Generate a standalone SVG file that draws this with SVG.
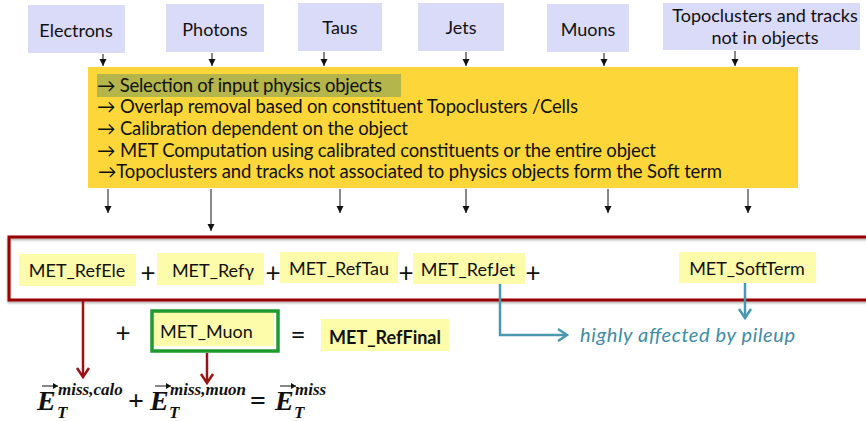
<svg xmlns="http://www.w3.org/2000/svg" width="866" height="421" viewBox="0 0 866 421">
<defs>
<style>
.src rect{fill:#dadaf9}
.src text{font-family:Lato,"Open Sans",sans-serif;font-size:18px;fill:#111;text-anchor:middle}
.lbl rect{fill:#fdfcaa}
.lbl text{font-family:Lato,"Open Sans",sans-serif;font-size:18px;fill:#111;text-anchor:middle}
.op{font-family:Lato,"Open Sans",sans-serif;font-size:26px;fill:#111;text-anchor:middle}
.steps text{font-family:Lato,"Open Sans",sans-serif;font-size:18.5px;fill:#111}
.blk{stroke:#111;stroke-width:1;fill:none}
.red{stroke:#9a1414;stroke-width:2.5;fill:none}
.teal{stroke:#4a98ae;stroke-width:2.5;fill:none}
.fx{font-family:"Liberation Serif","Times New Roman",serif;font-weight:bold;font-style:italic;fill:#111}
</style>
<marker id="ab" markerWidth="8" markerHeight="8" refX="7" refY="4" orient="auto" markerUnits="userSpaceOnUse">
<path d="M0,0.5 L7,4 L0,7.5 z" fill="#111"/>
</marker>
<marker id="ar" markerWidth="14" markerHeight="16" refX="11" refY="8" orient="auto" markerUnits="userSpaceOnUse">
<path d="M2,2 L11,8 L2,14" fill="none" stroke="#9a1414" stroke-width="2.5"/>
</marker>
<marker id="at" markerWidth="14" markerHeight="16" refX="11" refY="8" orient="auto" markerUnits="userSpaceOnUse">
<path d="M2,2 L11,8 L2,14" fill="none" stroke="#4a98ae" stroke-width="2.5"/>
</marker>
<marker id="av" markerWidth="6" markerHeight="6" refX="5" refY="3" orient="auto" markerUnits="userSpaceOnUse">
<path d="M0,0 L5,3 L0,6 z" fill="#111"/>
</marker>
<filter id="sh" x="-5%" y="-20%" width="110%" height="140%">
<feDropShadow dx="0" dy="1.5" stdDeviation="1" flood-color="#000" flood-opacity="0.35"/>
</filter>
</defs>

<g id="electrons" class="src"><rect x="28" y="5" width="97" height="48"/><text x="76" y="37">Electrons</text></g>
<g id="photons" class="src"><rect x="166" y="4" width="98" height="48"/><text x="215" y="36">Photons</text></g>
<g id="taus" class="src"><rect x="298" y="3" width="84" height="48"/><text x="340" y="34">Taus</text></g>
<g id="jets" class="src"><rect x="418" y="3" width="86" height="48"/><text x="461" y="34">Jets</text></g>
<g id="muons" class="src"><rect x="547" y="4" width="82" height="48"/><text x="588" y="36">Muons</text></g>
<g id="topoclusters" class="src"><rect x="663" y="3" width="197" height="47"/><text x="765" y="22">Topoclusters and tracks</text><text x="765" y="44">not in objects</text></g>

<g id="steps" class="steps">
<rect x="88" y="67" width="710" height="121" fill="#fdd73a"/>
<rect x="97" y="74" width="304" height="23" fill="#b4b54a"/>
<text x="97" y="92" textLength="285">→ Selection of input physics objects</text>
<text x="97" y="113" textLength="481">→ Overlap removal based on constituent Topoclusters /Cells</text>
<text x="97" y="135" textLength="311">→ Calibration dependent on the object</text>
<text x="97" y="157" textLength="559">→ MET Computation using calibrated constituents or the entire object</text>
<text x="98" y="178" textLength="624">→Topoclusters and tracks not associated to physics objects form the Soft term</text>
</g>

<g id="met-sum">
<rect x="9" y="237" width="870" height="63" fill="none" stroke="#990000" stroke-width="3" filter="url(#sh)"/>
</g>

<g id="met-refele" class="lbl"><rect x="19" y="254" width="117" height="32"/><text x="77" y="277">MET_RefEle</text></g>
<g id="met-refgamma" class="lbl"><rect x="157" y="253" width="107" height="32"/><text x="213" y="277">MET_Refγ</text></g>
<g id="met-reftau" class="lbl"><rect x="280" y="252" width="118" height="31"/><text x="339" y="275">MET_RefTau</text></g>
<g id="met-refjet" class="lbl"><rect x="413" y="253" width="112" height="31"/><text x="468" y="276">MET_RefJet</text></g>
<g id="met-softterm" class="lbl"><rect x="679" y="252" width="137" height="31"/><text x="747" y="275">MET_SoftTerm</text></g>
<g id="met-muon" class="lbl"><rect x="153" y="312" width="121" height="34"/><rect x="152" y="311" width="126" height="40" fill="none" stroke="#1f9a2e" stroke-width="3.5" style="fill:none"/><text x="160" y="338" style="text-anchor:start">MET_Muon</text></g>
<g id="met-reffinal" class="lbl"><rect x="321" y="319" width="128" height="32"/><text x="385" y="344" style="font-weight:bold">MET_RefFinal</text></g>

<g id="operators">
<text class="op" x="148" y="282">+</text>
<text class="op" x="273" y="282">+</text>
<text class="op" x="406" y="282">+</text>
<text class="op" x="533" y="282">+</text>
<text class="op" x="123" y="342">+</text>
<text class="op" x="298" y="344">=</text>
</g>

<g id="pileup-note"><text x="580" y="342" font-family="Lato,'Open Sans',sans-serif" font-size="20" font-style="italic" fill="#3f8ca3" textLength="215">highly affected by pileup</text></g>

<g id="formula" class="fx">
<text x="37" y="410" font-size="28">E</text>
<text x="58" y="395" font-size="17">miss,calo</text>
<text x="57" y="418" font-size="17">T</text>
<text x="136" y="410" font-size="28" text-anchor="middle" style="font-style:normal">+</text>
<text x="150" y="410" font-size="28">E</text>
<text x="170" y="395" font-size="17">miss,muon</text>
<text x="169" y="418" font-size="17">T</text>
<text x="258" y="410" font-size="28" text-anchor="middle" style="font-style:normal">=</text>
<text x="275" y="410" font-size="28">E</text>
<text x="295" y="395" font-size="17">miss</text>
<text x="294" y="418" font-size="17">T</text>
<path class="blk" stroke-width="1.5" d="M42,386 H58" marker-end="url(#av)"/>
<path class="blk" stroke-width="1.5" d="M155,386 H171" marker-end="url(#av)"/>
<path class="blk" stroke-width="1.5" d="M280,386 H296" marker-end="url(#av)"/>
</g>

<g id="connectors">
<path class="blk" d="M103,54 V66" marker-end="url(#ab)"/>
<path class="blk" d="M212,53 V66" marker-end="url(#ab)"/>
<path class="blk" d="M324,52 V66" marker-end="url(#ab)"/>
<path class="blk" d="M466,52 V66" marker-end="url(#ab)"/>
<path class="blk" d="M604,53 V66" marker-end="url(#ab)"/>
<path class="blk" d="M735,51 V66" marker-end="url(#ab)"/>
<path class="blk" d="M108,189 V213" marker-end="url(#ab)"/>
<path class="blk" d="M211,189 V231" marker-end="url(#ab)"/>
<path class="blk" d="M340,189 V213" marker-end="url(#ab)"/>
<path class="blk" d="M466,189 V213" marker-end="url(#ab)"/>
<path class="blk" d="M608,189 V213" marker-end="url(#ab)"/>
<path class="blk" d="M748,189 V213" marker-end="url(#ab)"/>
<path class="red" d="M83,301 V377" marker-end="url(#ar)"/>
<path class="red" d="M207,353 V383" marker-end="url(#ar)"/>
<path class="teal" d="M500,284 V335 H567" marker-end="url(#at)"/>
<path class="teal" d="M745,283 V318" marker-end="url(#at)"/>
</g>
</svg>
